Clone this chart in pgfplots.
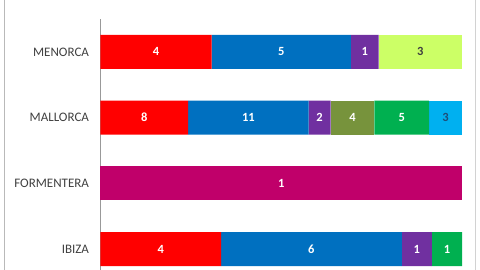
\documentclass[border=0pt]{standalone}
\usepackage{pgfplots}
\pgfplotsset{compat=1.18}
\usepackage{pgfplotstable}
\usepackage{fontspec}
\setmainfont{Carlito}
\definecolor{cRed}{HTML}{FF0000}
\definecolor{cBlue}{HTML}{0070C0}
\definecolor{cPurple}{HTML}{7030A0}
\definecolor{cOlive}{HTML}{77933C}
\definecolor{cGreen}{HTML}{00B050}
\definecolor{cCyan}{HTML}{00B0F0}
\definecolor{cLime}{HTML}{CCFF66}
\definecolor{cMag}{HTML}{C0006A}
\definecolor{txt}{HTML}{404040}
\definecolor{navy}{HTML}{1F4E79}
\pgfplotstableread{
y t  a  b  c  d  e  f  g  h
0 12 4  6  1  0  1  0  0  0
1 1  0  0  0  0  0  0  0  1
2 33 8  11 2  4  5  3  0  0
3 13 4  5  1  0  0  0  3  0
}\data
\newcommand{\seg}[3]{%
\addplot[fill=#2, draw=none,
  every node near coord/.append style={anchor=center, text=#3, font=\fontsize{12.5}{13}\selectfont\bfseries}]
  table[y=y, x expr=\thisrow{#1}/\thisrow{t}*100, meta=#1]{\data};}
\begin{document}
\begin{tikzpicture}[x=1pt,y=1pt]
\begin{axis}[
  at={(100.5pt,-12pt)}, anchor=south west,
  scale only axis, width=361.5pt, height=263pt,
  xbar stacked, bar width=34pt,
  xmin=0, xmax=100, ymin=-0.5, ymax=3.5,
  axis x line=none,
  axis y line*=left,
  y axis line style={draw=gray!80, line width=0.8pt, -},
  ytick={0,1,2,3},
  yticklabels={IBIZA,FORMENTERA,MALLORCA,MENORCA},
  major tick length=0pt,
  yticklabel style={font=\fontsize{13}{14}\selectfont, text=txt, xshift=-8pt},
  point meta=explicit,
  /pgf/number format/assume math mode=true,
  nodes near coords={\pgfmathfloatifflags{\pgfplotspointmeta}{0}{}{\pgfmathprintnumber{\pgfplotspointmeta}}},
  clip=false,
]
\seg{a}{cRed}{white}
\seg{b}{cBlue}{white}
\seg{c}{cPurple}{white}
\seg{d}{cOlive}{white}
\seg{e}{cGreen}{white}
\seg{f}{cCyan}{navy}
\seg{g}{cLime}{txt}
\seg{h}{cMag}{white}
\end{axis}
\draw[gray!55, line width=0.8pt] (4,0) -- (4,270);
\draw[gray!35, line width=0.8pt] (475.5,0) -- (475.5,270);
\pgfresetboundingbox
\path[use as bounding box] (0,0) rectangle (480,270);
\end{tikzpicture}
\end{document}
